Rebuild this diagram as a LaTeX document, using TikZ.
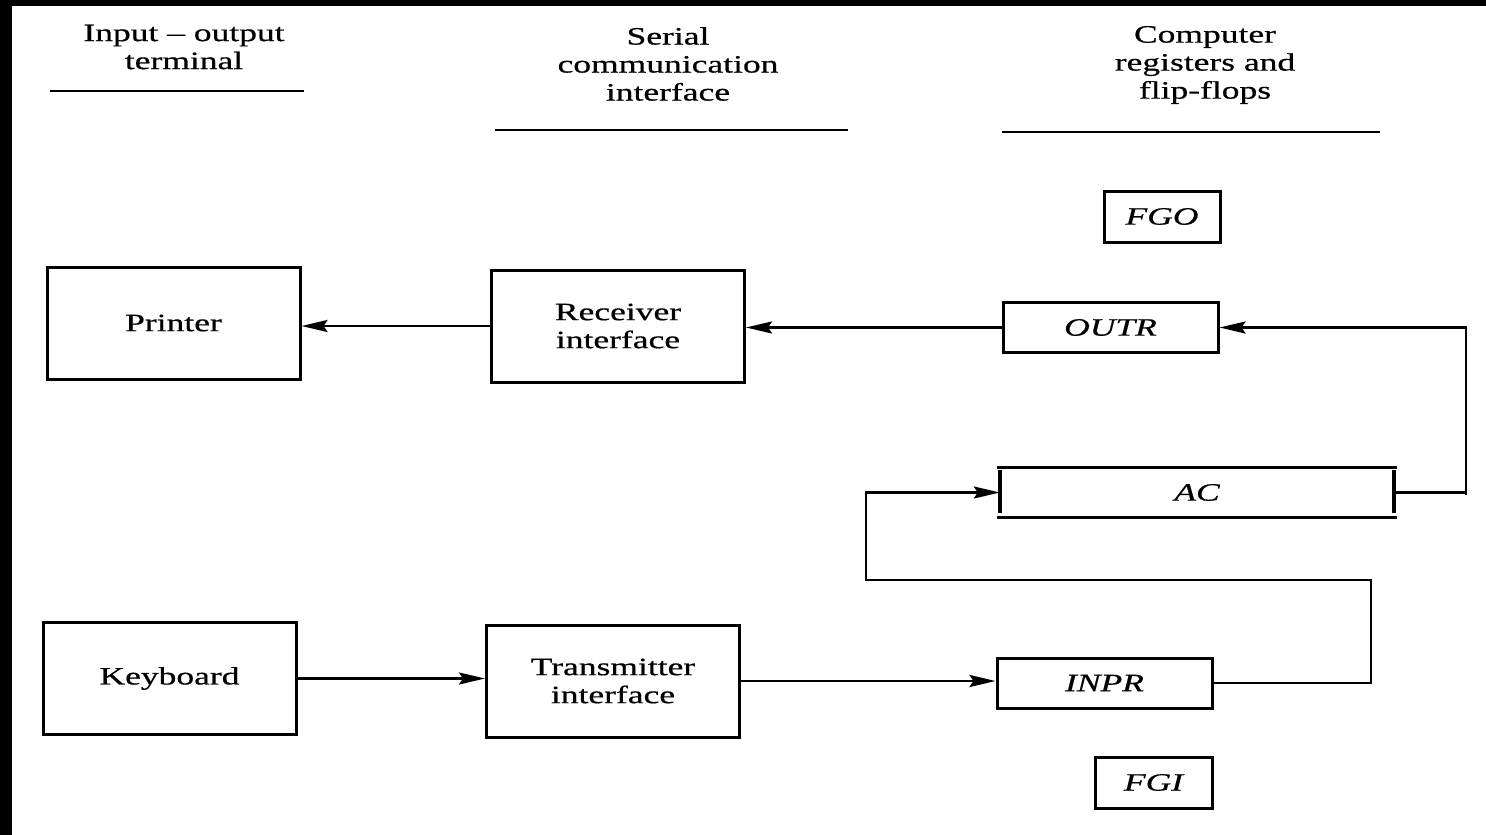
\documentclass[tikz,border=0pt]{standalone}
\usepackage{fontspec}
\setmainfont[FakeStretch=1.42,FakeBold=0.6]{Liberation Serif}
\usetikzlibrary{arrows.meta}
\begin{document}
\begin{tikzpicture}[x=1pt,y=-1pt,
  every node/.style={font=\fontsize{25}{28}\selectfont, inner sep=0pt, align=center},
  blk/.style={draw, line width=3pt, minimum width=#1},
  blk/.default=253pt,
  bigbox/.style={blk=253pt, minimum height=112pt},
  reg/.style={draw, line width=3pt, minimum height=50pt},
  hdr/.style={font=\fontsize{25}{28}\selectfont},
  rule/.style={line width=2.5pt},
  arr/.style={line width=2.6pt, -{Stealth[length=26pt,width=12pt,inset=4pt]}},
  wire/.style={line width=2.6pt}]
\useasboundingbox (0,0) rectangle (1486,835);
\fill[black] (0,0) rectangle (12,835);
\fill[black] (0,0) rectangle (1486,6);

% headers
\node[hdr] (h1) at (184,47) {Input -- output\\terminal};
\coordinate (h1a) at (50,91); \coordinate (h1b) at (304,91);
\draw[rule] (h1a) -- (h1b);
\node[hdr] (h2) at (668,64) {Serial\\communication\\interface};
\coordinate (h2a) at (495,130); \coordinate (h2b) at (848,130);
\draw[rule] (h2a) -- (h2b);
\node[hdr] (h3) at (1205,65) {Computer\\registers and\\flip-flops};
\coordinate (h3a) at (1002,132); \coordinate (h3b) at (1380,132);
\draw[rule] (h3a) -- (h3b);

% boxes
\node[bigbox] (printer) at (173.5,323) {Printer};
\node[bigbox] (rcv) at (618,326) {Receiver\\interface};
\node[bigbox] (kbd) at (169.5,678.5) {Keyboard};
\node[bigbox] (tx) at (613,681) {Transmitter\\interface};
\node[reg, minimum width=215pt] (outr) at (1110.5,327.5) {\itshape OUTR};
\node[reg, minimum width=215pt] (inpr) at (1104.5,683) {\itshape INPR};
\node[reg, minimum width=116pt, minimum height=51pt] (fgo) at (1162,216.5) {\itshape FGO};
\node[reg, minimum width=117pt, minimum height=51pt] (fgi) at (1153.5,782.5) {\itshape FGI};

% AC register
\node[minimum width=400pt, minimum height=49pt] (ac) at (1197,492.5) {\itshape AC};
\draw[line width=3pt] (ac.north west) -- (ac.north east);
\draw[line width=3pt] (ac.south west) -- (ac.south east);
\draw[line width=4pt] ([xshift=3pt,yshift=-2pt]ac.north west) -- ([xshift=3pt,yshift=4pt]ac.south west);
\draw[line width=4pt] ([xshift=-3pt,yshift=-2pt]ac.north east) -- ([xshift=-3pt,yshift=4pt]ac.south east);

% connectors
\draw[arr] (rcv.west) -- (printer.east |- rcv.west);
\draw[arr] (outr.west) -- (rcv.east |- outr.west);
\coordinate (rt) at (1466,326);
\coordinate (rb) at (1466,495);
\draw[wire] (rt) -- (rb);
\draw[wire] ([xshift=-3pt]ac.east) -- (ac.east -| rb);
\draw[arr] (rt |- outr.east) -- (outr.east);
\draw[arr] (kbd.east) -- (tx.west |- kbd.east);
\draw[arr] (tx.east) -- (inpr.west |- tx.east);
\coordinate (lr) at (1371,580);
\coordinate (ll) at (866,580);
\draw[arr] (inpr.east) -| (lr) -- (ll) |- ([xshift=3pt]ac.west);
\end{tikzpicture}
\end{document}
